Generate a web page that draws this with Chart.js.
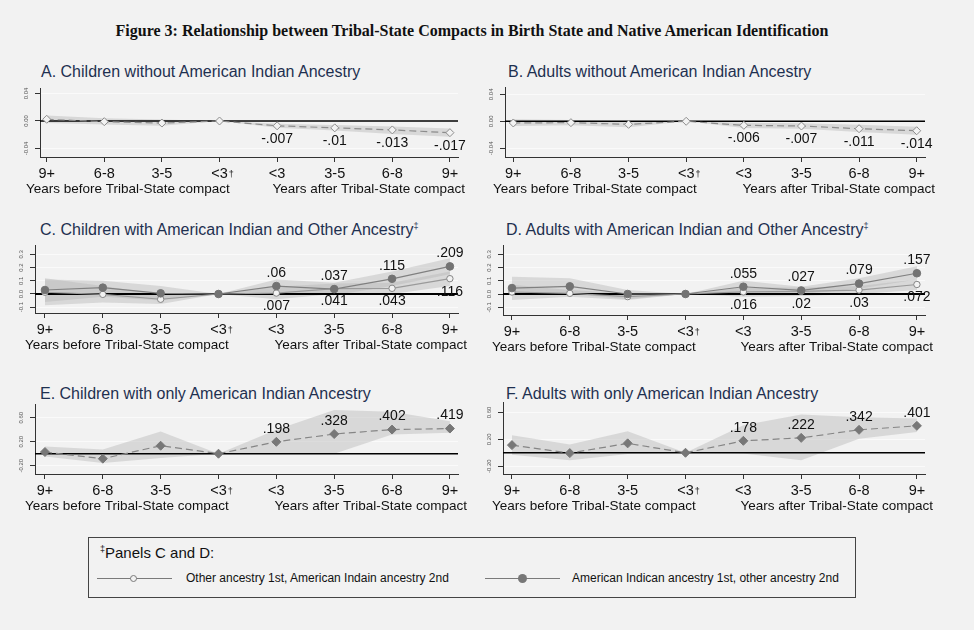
<!DOCTYPE html>
<html>
<head>
<meta charset="utf-8">
<script src="https://cdn.jsdelivr.net/npm/chart.js@4.4.1/dist/chart.umd.min.js"></script>
<style>
  body { margin:0; background:#f2f2f2; width:974px; height:630px; position:relative; overflow:hidden;
         font-family:"Liberation Sans", Arial, sans-serif; }
  .fig-title { position:absolute; left:-15px; width:974px; top:21px; text-align:center; line-height:20px;
               font-family:"Liberation Serif","Times New Roman",serif; font-weight:bold; font-size:16px; color:#111; }
  .ptitle { position:absolute; font-size:16px; line-height:16px; color:#1e3050; white-space:nowrap; }
  .ptitle sup { font-size:9px; vertical-align:6px; line-height:0; }
  canvas { position:absolute; }
  .legend { position:absolute; left:88px; top:537px; width:766px; height:59px; border:1px solid #444; }
  .lg-head { position:absolute; left:11px; top:6px; font-size:15px; color:#111; }
  .lg-head sup { font-size:9px; vertical-align:6px; line-height:0; }
  .lg-line { position:absolute; top:40px; width:75px; height:0; border-top:1px solid #7a7a7a; }
  .lg-dot { position:absolute; border-radius:50%; box-sizing:border-box; }
  .lg-text { position:absolute; top:33px; font-size:12px; color:#111; white-space:nowrap; }
</style>
</head>
<body>
<div class="fig-title">Figure 3: Relationship between Tribal-State Compacts in Birth State and Native American Identification</div>

<div class="legend">
  <div class="lg-head"><sup>‡</sup>Panels C and D:</div>
  <div class="lg-line" style="left:8px"></div>
  <div class="lg-dot" style="left:41px;top:37px;width:7px;height:7px;border:1px solid #7a7a7a;background:#f2f2f2"></div>
  <div class="lg-text" style="left:97px">Other ancestry 1st, American Indain ancestry 2nd</div>
  <div class="lg-line" style="left:396px"></div>
  <div class="lg-dot" style="left:429px;top:36px;width:9px;height:9px;background:#777"></div>
  <div class="lg-text" style="left:483px">American Indican ancestry 1st, other ancestry 2nd</div>
</div>

<script>
const xLabels = ["9+", "6-8", "3-5", "<3†", "<3", "3-5", "6-8", "9+"];

// y axis ticks
const ticksAB = [-0.04, 0, 0.04];
const ticksABLabels = ["-0.04", "0.00", "0.04"];
const ticksCD = [-0.1, 0, 0.1, 0.2, 0.3];
const ticksCDLabels = ["-0.1", "0.0", "0.1", "0.2", "0.3"];
const ticksEF = [-0.2, 0.2, 0.6];
const ticksEFLabels = ["-0.20", "0.20", "0.60"];

// A. children without AI ancestry
const childNoAI   = [0.0025, -0.001, -0.003, 0, -0.007, -0.01, -0.013, -0.017];
const childNoAIHi = [0.008, 0.004, 0.002, 0, -0.004, -0.006, -0.008, -0.011];
const childNoAILo = [-0.003, -0.005, -0.007, 0, -0.010, -0.014, -0.019, -0.023];

// B. adults without AI ancestry
const adultNoAI   = [-0.0025, -0.002, -0.0045, 0, -0.006, -0.007, -0.011, -0.014];
const adultNoAIHi = [0.003, 0.002, 0.0, 0, -0.002, -0.003, -0.005, -0.008];
const adultNoAILo = [-0.007, -0.006, -0.009, 0, -0.010, -0.011, -0.016, -0.020];

// C. children with AI and other ancestry
const childAIFirst      = [0.03, 0.048, 0.005, 0, 0.06, 0.037, 0.115, 0.209];
const childAIFirstHi    = [0.11, 0.10, 0.06, 0, 0.11, 0.085, 0.17, 0.27];
const childAIFirstLo    = [-0.06, -0.02, -0.05, 0, 0.01, -0.01, 0.06, 0.15];
const childOtherFirst   = [0.013, -0.003, -0.04, 0, 0.007, 0.041, 0.043, 0.116];
const childOtherFirstHi = [0.12, 0.06, -0.005, 0, 0.055, 0.08, 0.085, 0.17];
const childOtherFirstLo = [-0.085, -0.065, -0.075, 0, -0.04, 0.0, 0.0, 0.06];

// D. adults with AI and other ancestry
const adultAIFirst      = [0.045, 0.058, 0.0, 0, 0.055, 0.027, 0.079, 0.157];
const adultAIFirstHi    = [0.13, 0.12, 0.03, 0, 0.10, 0.055, 0.12, 0.21];
const adultAIFirstLo    = [-0.01, 0.0, -0.04, 0, 0.01, 0.0, 0.04, 0.11];
const adultOtherFirst   = [0.015, 0.005, -0.02, 0, 0.016, 0.02, 0.03, 0.072];
const adultOtherFirstHi = [0.07, 0.03, 0.005, 0, 0.05, 0.05, 0.06, 0.11];
const adultOtherFirstLo = [-0.045, -0.02, -0.045, 0, -0.02, -0.015, 0.0, 0.03];

// E. children with only AI ancestry
const childOnlyAI   = [0.028, -0.083, 0.133, 0, 0.198, 0.328, 0.402, 0.419];
const childOnlyAIHi = [0.12, 0.07, 0.37, 0, 0.40, 0.73, 0.70, 0.54];
const childOnlyAILo = [-0.045, -0.155, -0.07, 0, 0.0, 0.0, 0.32, 0.35];

// F. adults with only AI ancestry
const adultOnlyAI   = [0.114, -0.005, 0.14, 0, 0.178, 0.222, 0.342, 0.401];
const adultOnlyAIHi = [0.26, 0.125, 0.32, 0, 0.41, 0.57, 0.53, 0.51];
const adultOnlyAILo = [-0.03, -0.11, -0.02, 0, -0.01, -0.11, 0.21, 0.31];

const FONT = '"Liberation Sans", Arial, sans-serif';
const BG = "#f2f2f2";

const styles = {
  hollowDiamond: { borderColor:"#8c8c8c", borderWidth:1.2, borderDash:[7,4], pointStyle:"rectRot", pointRadius:4,
                   pointBorderColor:"#8c8c8c", pointBackgroundColor:BG, pointBorderWidth:1 },
  filledDiamond: { borderColor:"#858585", borderWidth:1.2, borderDash:[7,4], pointStyle:"rectRot", pointRadius:4.5,
                   pointBorderColor:"#777", pointBackgroundColor:"#777", pointBorderWidth:1 },
  filledCircle:  { borderColor:"#808080", borderWidth:1.2, pointStyle:"circle", pointRadius:3.8,
                   pointBorderColor:"#737373", pointBackgroundColor:"#737373", pointBorderWidth:1 },
  hollowCircle:  { borderColor:"#9a9a9a", borderWidth:1.2, pointStyle:"circle", pointRadius:3.2,
                   pointBorderColor:"#858585", pointBackgroundColor:BG, pointBorderWidth:1 }
};

const panels = [
  { title:"A. Children without American Indian Ancestry", sup:"", titleX:41, titleY:64,
    box:{x:0, w:480}, area:{left:40, right:458, top:88, bottom:157}, xMin:-0.116, xMax:7.14,
    yMin:-0.0524, yMax:0.048, yTicks:ticksAB, yTickLabels:ticksABLabels, zeroWidth:1.5,
    titleL:26, titleR:465,
    series:[{ v:childNoAI, hi:childNoAIHi, lo:childNoAILo, style:"hollowDiamond", pos:"below" }] },
  { title:"B. Adults without American Indian Ancestry", sup:"", titleX:508, titleY:64,
    box:{x:480, w:494}, area:{left:505, right:925, top:87, bottom:157}, xMin:-0.144, xMax:7.144,
    yMin:-0.0529, yMax:0.0508, yTicks:ticksAB, yTickLabels:ticksABLabels, zeroWidth:1.5,
    titleL:493, titleR:935,
    series:[{ v:adultNoAI, hi:adultNoAIHi, lo:adultNoAILo, style:"hollowDiamond", pos:"below" }] },
  { title:"C. Children with American Indian and Other Ancestry", sup:"‡", titleX:40, titleY:222,
    box:{x:0, w:480}, area:{left:35, right:458, top:245, bottom:313}, xMin:-0.172, xMax:7.14,
    yMin:-0.144, yMax:0.371, yTicks:ticksCD, yTickLabels:ticksCDLabels, zeroWidth:2,
    titleL:25, titleR:467,
    series:[{ v:childOtherFirst, hi:childOtherFirstHi, lo:childOtherFirstLo, style:"hollowCircle", pos:"below" },
            { v:childAIFirst, hi:childAIFirstHi, lo:childAIFirstLo, style:"filledCircle", pos:"above" }] },
  { title:"D. Adults with American Indian and Other Ancestry", sup:"‡", titleX:506, titleY:222,
    box:{x:480, w:494}, area:{left:503, right:925, top:245, bottom:315}, xMin:-0.155, xMax:7.14,
    yMin:-0.159, yMax:0.371, yTicks:ticksCD, yTickLabels:ticksCDLabels, zeroWidth:2,
    titleL:492, titleR:933,
    series:[{ v:adultOtherFirst, hi:adultOtherFirstHi, lo:adultOtherFirstLo, style:"hollowCircle", pos:"below" },
            { v:adultAIFirst, hi:adultAIFirstHi, lo:adultAIFirstLo, style:"filledCircle", pos:"above" }] },
  { title:"E. Children with only American Indian Ancestry", sup:"", titleX:40, titleY:386,
    box:{x:0, w:480}, area:{left:35, right:458, top:404, bottom:474}, xMin:-0.172, xMax:7.14,
    yMin:-0.338, yMax:0.828, yTicks:ticksEF, yTickLabels:ticksEFLabels, zeroWidth:1.5,
    titleL:25, titleR:467,
    series:[{ v:childOnlyAI, hi:childOnlyAIHi, lo:childOnlyAILo, style:"filledDiamond", pos:"above" }] },
  { title:"F. Adults with only American Indian Ancestry", sup:"", titleX:506, titleY:386,
    box:{x:480, w:494}, area:{left:503, right:925, top:402, bottom:474}, xMin:-0.155, xMax:7.14,
    yMin:-0.316, yMax:0.756, yTicks:ticksEF, yTickLabels:ticksEFLabels, zeroWidth:1.5,
    titleL:492, titleR:933,
    series:[{ v:adultOnlyAI, hi:adultOnlyAIHi, lo:adultOnlyAILo, style:"filledDiamond", pos:"above" }] }
];

const fmt = v => String(v).replace("0.", ".");
const pts = arr => arr.map((y, i) => ({ x: i, y: y }));

function makeDecor(p) {
  return {
    id: "decor",
    beforeDatasetsDraw(chart) {
      const { ctx, chartArea, scales } = chart;
      const y0 = scales.y.getPixelForValue(0);
      ctx.save();
      ctx.strokeStyle = "#000";
      ctx.lineWidth = p.zeroWidth;
      ctx.beginPath();
      ctx.moveTo(chartArea.left, y0);
      ctx.lineTo(chartArea.right, y0);
      ctx.stroke();
      ctx.restore();
    },
    afterDatasetsDraw(chart) {
      const ctx = chart.ctx;
      ctx.save();
      ctx.font = "14px " + FONT;
      ctx.fillStyle = "#111";
      ctx.textAlign = "center";
      ctx.textBaseline = "middle";
      chart.data.datasets.forEach((ds, di) => {
        if (!ds.valuePos) return;
        const meta = chart.getDatasetMeta(di);
        for (let i = 4; i < ds.data.length; i++) {
          const el = meta.data[i];
          const dy = ds.valuePos === "above" ? -13 : 13;
          ctx.fillText(fmt(ds.data[i].y), el.x, el.y + dy);
        }
      });
      ctx.restore();
    },
    afterDraw(chart) {
      const { ctx, chartArea, scales } = chart;
      ctx.save();
      // rotated y tick labels
      ctx.font = "6px " + FONT;
      ctx.fillStyle = "#555";
      ctx.textAlign = "center";
      ctx.textBaseline = "middle";
      p.yTicks.forEach((v, i) => {
        const y = scales.y.getPixelForValue(v);
        ctx.save();
        ctx.translate(chartArea.left - 14, y);
        ctx.rotate(-Math.PI / 2);
        ctx.fillText(p.yTickLabels[i], 0, 0);
        ctx.restore();
      });
      // small dagger after the reference-period tick label
      xLabels.forEach((lab, i) => {
        if (!lab.endsWith("†")) return;
        ctx.font = "14.5px " + FONT;
        const base = lab.slice(0, -1);
        const x = scales.x.getPixelForValue(i) + ctx.measureText(base).width / 2 + 1;
        ctx.font = "9px " + FONT;
        ctx.fillStyle = "#111";
        ctx.textAlign = "left";
        ctx.textBaseline = "middle";
        ctx.fillText("†", x, chartArea.bottom + 18);
      });
      // axis titles
      ctx.font = "13.5px " + FONT;
      ctx.fillStyle = "#111";
      ctx.textAlign = "left";
      ctx.textBaseline = "middle";
      const ty = chartArea.bottom + 32;
      ctx.fillText("Years before Tribal-State compact", p.titleL - p.box.x, ty);
      ctx.textAlign = "right";
      ctx.fillText("Years after Tribal-State compact", p.titleR - p.box.x, ty);
      ctx.restore();
    }
  };
}

panels.forEach(p => {
  const t = document.createElement("div");
  t.className = "ptitle";
  t.style.left = p.titleX + "px";
  t.style.top = p.titleY + "px";
  t.innerHTML = p.title + (p.sup ? "<sup>" + p.sup + "</sup>" : "");
  document.body.appendChild(t);

  const padTop = 12, xH = 45;
  const cv = document.createElement("canvas");
  const w = p.box.w, h = (p.area.bottom - p.area.top) + padTop + xH;
  cv.width = w; cv.height = h;
  cv.style.left = p.box.x + "px";
  cv.style.top = (p.area.top - padTop) + "px";
  cv.style.width = w + "px"; cv.style.height = h + "px";
  document.body.appendChild(cv);

  const datasets = [];
  p.series.forEach(s => {
    datasets.push({ data: pts(s.hi), fill: "+1", backgroundColor: "rgba(185,185,185,0.45)",
                    borderWidth: 0, pointRadius: 0, order: 5 });
    datasets.push({ data: pts(s.lo), fill: false, borderWidth: 0, pointRadius: 0, order: 5 });
  });
  p.series.forEach((s, k) => {
    datasets.push(Object.assign({ data: pts(s.v), fill: false, valuePos: s.pos, order: p.series.length - k },
                                styles[s.style]));
  });

  new Chart(cv, {
    type: "line",
    data: { datasets: datasets },
    options: {
      responsive: false,
      animation: false,
      events: [],
      layout: { padding: { top: padTop, left: 0, bottom: 0, right: w - (p.area.right - p.box.x) } },
      plugins: { legend: { display: false }, tooltip: { enabled: false }, filler: { drawTime: "beforeDatasetsDraw" } },
      scales: {
        x: {
          type: "linear", min: p.xMin, max: p.xMax,
          afterBuildTicks: s => { s.ticks = xLabels.map((_, i) => ({ value: i })); },
          afterFit: s => { s.height = xH; },
          grid: { drawOnChartArea: false, tickLength: 5, tickColor: "#333" },
          border: { color: "#333", width: 1 },
          ticks: { callback: v => xLabels[v].replace("†", ""), font: { size: 14.5, family: FONT }, color: "#111",
                   padding: 3, maxRotation: 0, autoSkip: false }
        },
        y: {
          min: p.yMin, max: p.yMax,
          afterBuildTicks: s => { s.ticks = p.yTicks.map(v => ({ value: v })); },
          afterFit: s => { s.width = p.area.left - p.box.x; },
          grid: { color: "#fafafa", tickColor: "#333", tickLength: 5 },
          border: { color: "#333", width: 1 },
          ticks: { display: false }
        }
      }
    },
    plugins: [makeDecor(p)]
  });
});
</script>
</body>
</html>
